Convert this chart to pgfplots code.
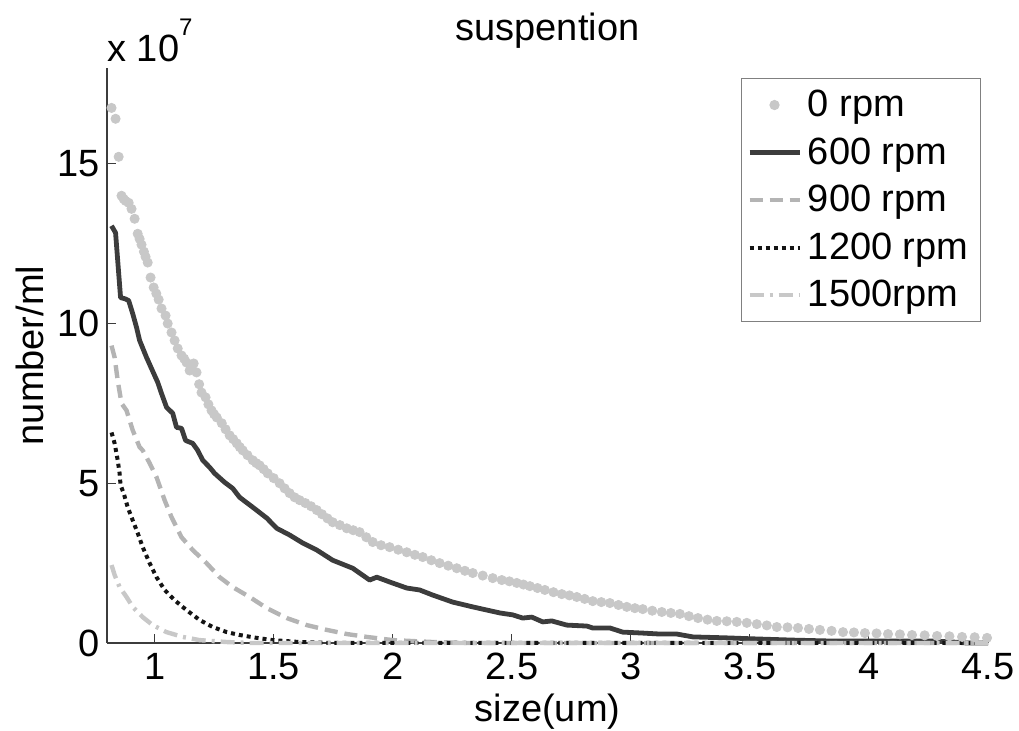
\documentclass[border=0pt]{standalone}
\usepackage{pgfplots}
\pgfplotsset{compat=1.18}
\usepackage{fontspec}
\setmainfont{Liberation Sans}
\definecolor{dotgray}{RGB}{200,200,200}
\definecolor{darkline}{RGB}{60,60,60}
\definecolor{dashgray}{RGB}{180,180,180}
\definecolor{dotblack}{RGB}{20,20,20}
\definecolor{axisgray}{RGB}{60,60,60}
\newcommand{\chartfont}{\fontsize{19}{22}\selectfont}
\begin{document}
\begin{tikzpicture}
\useasboundingbox (-53.5pt,-44pt) rectangle (456pt,321.5pt);
\begin{axis}[
    scale only axis,
    width=440.5pt, height=287.5pt,
    at={(0,0)}, anchor=south west,
    xmin=0.8, xmax=4.5, ymin=0, ymax=18,
    clip=false,
    axis x line*=bottom, axis y line*=left,
    axis line style={-, line width=0.6pt, color=axisgray},
    tick align=inside,
    major tick length=4.5pt,
    tick style={line width=0.5pt, color=axisgray},
    xtick={1,1.5,2,2.5,3,3.5,4,4.5},
    ytick={0,5,10,15},
    /pgf/number format/assume math mode=true,
    tick label style={font=\chartfont},
    xticklabel style={yshift=-1.5pt},
    label style={font=\chartfont},
    title style={font=\chartfont, at={(0.5,1)}, anchor=base, yshift=7.5pt},
    title={suspention},
    xlabel={size(um)},
    ylabel={number/ml},
    legend cell align=left,
    legend style={font=\chartfont, at={(0.992,0.983)}, anchor=north east,
        draw=gray, line width=0.5pt, nodes={inner sep=3pt}, row sep=3pt,
        inner ysep=3pt},
    legend image code/.code={%
        \draw[mark repeat=2, mark phase=2] plot coordinates {(0pt,0pt) (12.5pt,0pt) (25pt,0pt)};},
]
% 0 rpm
\addplot[only marks, color=dotgray, mark=*, mark size=2.3pt, mark options={draw=dotgray, fill=dotgray}] coordinates {
(0.819,16.75) (0.836,16.41) (0.849,15.22) (0.861,14.00) (0.870,13.90) (0.878,13.84) (0.891,13.78)
(0.903,13.59) (0.916,13.28) (0.929,12.81) (0.937,12.65) (0.945,12.47) (0.955,12.25) (0.962,12.09)
(0.971,11.91) (0.983,11.44) (0.996,11.13) (1.007,10.94) (1.017,10.75) (1.029,10.47) (1.046,10.25)
(1.055,10.00) (1.071,9.72) (1.084,9.47) (1.097,9.22) (1.113,9.00) (1.124,8.90) (1.134,8.78)
(1.147,8.53) (1.155,8.60) (1.164,8.75) (1.176,8.47) (1.187,8.10) (1.197,7.84) (1.214,7.69)
(1.226,7.47) (1.239,7.28) (1.250,7.16) (1.261,7.06) (1.282,6.88) (1.298,6.69) (1.315,6.50)
(1.330,6.38) (1.345,6.25) (1.358,6.13) (1.370,6.03) (1.390,5.88) (1.412,5.72) (1.427,5.63)
(1.441,5.56) (1.458,5.44) (1.475,5.31) (1.500,5.16) (1.525,5.00) (1.546,4.84) (1.567,4.69)
(1.588,4.56) (1.609,4.47) (1.633,4.38) (1.657,4.28) (1.681,4.16) (1.703,4.03) (1.726,3.90)
(1.748,3.78) (1.778,3.69) (1.807,3.59) (1.834,3.53) (1.861,3.47) (1.889,3.31) (1.916,3.16)
(1.951,3.06) (1.987,3.00) (2.023,2.92) (2.059,2.84) (2.093,2.76) (2.126,2.69) (2.162,2.59)
(2.197,2.50) (2.233,2.42) (2.269,2.34) (2.303,2.26) (2.336,2.19) (2.378,2.11) (2.420,2.03)
(2.458,1.97) (2.490,1.93) (2.521,1.88) (2.549,1.83) (2.576,1.78) (2.608,1.72) (2.639,1.66)
(2.675,1.59) (2.710,1.53) (2.742,1.49) (2.773,1.44) (2.806,1.38) (2.840,1.31) (2.876,1.28)
(2.912,1.25) (2.948,1.19) (2.983,1.13) (3.017,1.09) (3.050,1.06) (3.090,1.01) (3.130,0.97)
(3.168,0.94) (3.206,0.91) (3.244,0.84) (3.282,0.78) (3.322,0.73) (3.361,0.69) (3.403,0.68)
(3.445,0.66) (3.487,0.63) (3.529,0.59) (3.571,0.55) (3.613,0.50) (3.658,0.49) (3.702,0.47)
(3.748,0.44) (3.794,0.41) (3.843,0.38) (3.891,0.34) (3.937,0.33) (3.983,0.31) (4.032,0.30)
(4.080,0.28) (4.130,0.27) (4.181,0.25) (4.234,0.24) (4.286,0.22) (4.338,0.21) (4.391,0.19)
(4.444,0.18) (4.496,0.16)
};
% 600 rpm
\addplot[color=darkline, line width=2.4pt, line join=round] coordinates {
(0.819,13.06) (0.836,12.84) (0.845,11.97) (0.857,10.81) (0.874,10.78) (0.891,10.72) (0.908,10.31)
(0.924,9.88) (0.937,9.47) (0.966,8.94) (0.987,8.59) (1.013,8.16) (1.029,7.81) (1.050,7.38)
(1.076,7.19) (1.092,6.75) (1.113,6.72) (1.130,6.34) (1.160,6.25) (1.181,6.03) (1.202,5.72)
(1.231,5.50) (1.252,5.31) (1.294,5.03) (1.328,4.84) (1.357,4.56) (1.412,4.25) (1.471,3.91)
(1.513,3.59) (1.567,3.38) (1.622,3.13) (1.681,2.91) (1.748,2.59) (1.832,2.34) (1.903,1.97)
(1.933,2.06) (1.987,1.91) (2.059,1.72) (2.113,1.66) (2.168,1.50) (2.252,1.28) (2.336,1.13)
(2.450,0.94) (2.504,0.88) (2.546,0.78) (2.584,0.81) (2.630,0.66) (2.668,0.69) (2.731,0.56)
(2.815,0.53) (2.840,0.47) (2.912,0.47) (2.966,0.34) (3.050,0.31) (3.122,0.28) (3.193,0.28)
(3.261,0.19) (3.403,0.16) (3.513,0.13) (3.681,0.09) (3.849,0.06) (3.992,0.06) (4.269,0.06)
(4.353,0.03) (4.412,0.00) (4.500,0.00)
};
% 900 rpm
\addplot[color=dashgray, line width=2.2pt, dash pattern=on 6.5pt off 3.5pt] coordinates {
(0.819,9.31) (0.832,8.94) (0.845,8.22) (0.861,7.50) (0.882,7.28) (0.908,6.66) (0.937,6.13)
(0.950,6.03) (0.979,5.63) (1.008,5.19) (1.042,4.47) (1.071,3.94) (1.113,3.31) (1.160,2.91)
(1.218,2.50) (1.273,2.06) (1.328,1.75) (1.399,1.44) (1.471,1.09) (1.555,0.78) (1.639,0.56)
(1.723,0.41) (1.807,0.28) (1.891,0.19) (2.000,0.09) (2.168,0.03) (2.311,0.00) (4.500,0.00)
};
% 1200 rpm
\addplot[color=dotblack, line width=2pt, dash pattern=on 2pt off 2pt] coordinates {
(0.819,6.59) (0.832,6.25) (0.845,5.72) (0.853,5.31) (0.857,4.94) (0.870,4.69) (0.887,4.25)
(0.908,3.84) (0.929,3.44) (0.950,3.00) (0.979,2.50) (1.008,2.06) (1.042,1.66) (1.084,1.34)
(1.134,1.03) (1.189,0.72) (1.244,0.50) (1.303,0.34) (1.357,0.25) (1.429,0.16) (1.496,0.09)
(1.609,0.03) (1.748,0.00) (4.500,0.00)
};
% 1500 rpm
\addplot[color=dotgray, line width=2.2pt, dash pattern=on 7pt off 3pt on 1.5pt off 3pt] coordinates {
(0.819,2.44) (0.832,2.13) (0.853,1.75) (0.882,1.44) (0.908,1.13) (0.950,0.81) (0.992,0.56)
(1.050,0.34) (1.118,0.19) (1.189,0.09) (1.303,0.03) (1.399,0.00) (4.500,0.00)
};
\legend{0 rpm,600 rpm,900 rpm,1200 rpm,1500rpm}
\node[anchor=base west, inner sep=0pt, font=\chartfont] at ([yshift=3pt]rel axis cs:0,1)
    {x 10\raisebox{13pt}{\fontsize{12}{12}\selectfont 7}};
\end{axis}
\end{tikzpicture}
\end{document}
